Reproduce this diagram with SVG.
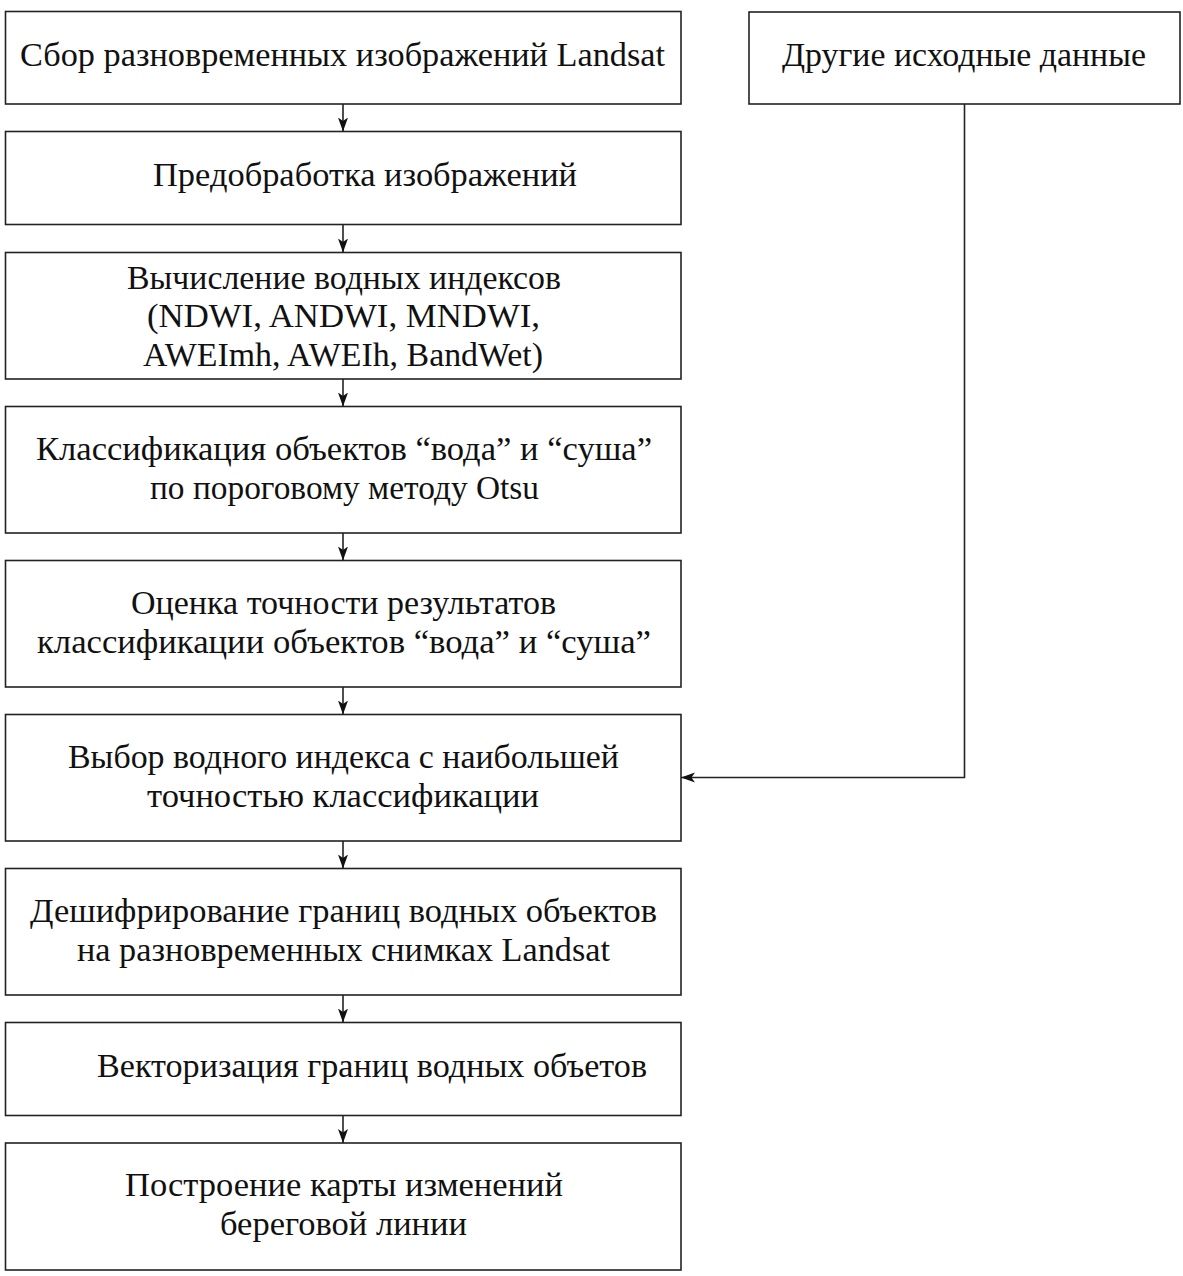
<svg xmlns="http://www.w3.org/2000/svg" width="1183" height="1276" viewBox="0 0 1183 1276">
<style>
.box{fill:#fff;stroke:#222;stroke-width:1.6}
.t{font-family:"Liberation Serif","Times New Roman",serif;font-size:34px;fill:#111}
.c{fill:none;stroke:#222;stroke-width:1.6}
</style>
<defs>
<marker id="ah" markerUnits="userSpaceOnUse" markerWidth="14" markerHeight="12" viewBox="0 0 14 12" refX="14" refY="6" orient="auto">
<path d="M0,1 L14,6 L0,11 L3.5,6 z" fill="#111"/>
</marker>
</defs>
<rect width="1183" height="1276" fill="#fff"/>
<g id="n1"><rect class="box" x="5.5" y="11.5" width="675.5" height="92.5"/>
<text class="t" x="20" y="66" textLength="645" lengthAdjust="spacingAndGlyphs">Сбор разновременных изображений Landsat</text></g>
<g id="n2"><rect class="box" x="5.5" y="131.5" width="675.5" height="93"/>
<text class="t" x="153" y="186" textLength="424" lengthAdjust="spacingAndGlyphs">Предобработка изображений</text></g>
<g id="n3"><rect class="box" x="5.5" y="252.5" width="675.5" height="126.5"/>
<text class="t" x="127" y="289" textLength="434" lengthAdjust="spacingAndGlyphs">Вычисление водных индексов</text>
<text class="t" x="147" y="327" textLength="393" lengthAdjust="spacingAndGlyphs">(NDWI, ANDWI, MNDWI,</text>
<text class="t" x="143" y="366" textLength="400" lengthAdjust="spacingAndGlyphs">AWEImh, AWEIh, BandWet)</text></g>
<g id="n4"><rect class="box" x="5.5" y="406.5" width="675.5" height="126.5"/>
<text class="t" x="36" y="460" textLength="616" lengthAdjust="spacingAndGlyphs">Классификация объектов “вода” и “суша”</text>
<text class="t" x="150" y="499" textLength="389" lengthAdjust="spacingAndGlyphs">по пороговому методу Otsu</text></g>
<g id="n5"><rect class="box" x="5.5" y="560.5" width="675.5" height="126.5"/>
<text class="t" x="131" y="614" textLength="425" lengthAdjust="spacingAndGlyphs">Оценка точности результатов</text>
<text class="t" x="37" y="653" textLength="614" lengthAdjust="spacingAndGlyphs">классификации объектов “вода” и “суша”</text></g>
<g id="n6"><rect class="box" x="5.5" y="714.5" width="675.5" height="126.5"/>
<text class="t" x="68" y="768" textLength="551" lengthAdjust="spacingAndGlyphs">Выбор водного индекса с наибольшей</text>
<text class="t" x="147" y="807" textLength="392" lengthAdjust="spacingAndGlyphs">точностью классификации</text></g>
<g id="n7"><rect class="box" x="5.5" y="868.5" width="675.5" height="126.5"/>
<text class="t" x="30" y="922" textLength="627" lengthAdjust="spacingAndGlyphs">Дешифрирование границ водных объектов</text>
<text class="t" x="77" y="961" textLength="533" lengthAdjust="spacingAndGlyphs">на разновременных снимках Landsat</text></g>
<g id="n8"><rect class="box" x="5.5" y="1022.5" width="675.5" height="93"/>
<text class="t" x="97" y="1077" textLength="550" lengthAdjust="spacingAndGlyphs">Векторизация границ водных объетов</text></g>
<g id="n9"><rect class="box" x="5.5" y="1143" width="675.5" height="127"/>
<text class="t" x="125" y="1196" textLength="438" lengthAdjust="spacingAndGlyphs">Построение карты изменений</text>
<text class="t" x="220" y="1235" textLength="247" lengthAdjust="spacingAndGlyphs">береговой линии</text></g>
<g id="n10"><rect class="box" x="749" y="12" width="431" height="92"/>
<text class="t" x="782" y="66" textLength="364" lengthAdjust="spacingAndGlyphs">Другие исходные данные</text></g>
<g id="connectors">
<path class="c" d="M343,104 V131.5" marker-end="url(#ah)"/>
<path class="c" d="M343,224.5 V252.5" marker-end="url(#ah)"/>
<path class="c" d="M343,379 V406.5" marker-end="url(#ah)"/>
<path class="c" d="M343,533 V560.5" marker-end="url(#ah)"/>
<path class="c" d="M343,687 V714.5" marker-end="url(#ah)"/>
<path class="c" d="M343,841 V868.5" marker-end="url(#ah)"/>
<path class="c" d="M343,995 V1022.5" marker-end="url(#ah)"/>
<path class="c" d="M343,1115.5 V1143" marker-end="url(#ah)"/>
<path class="c" d="M964.5,104 V777.5 H681" marker-end="url(#ah)"/>
</g>
</svg>
